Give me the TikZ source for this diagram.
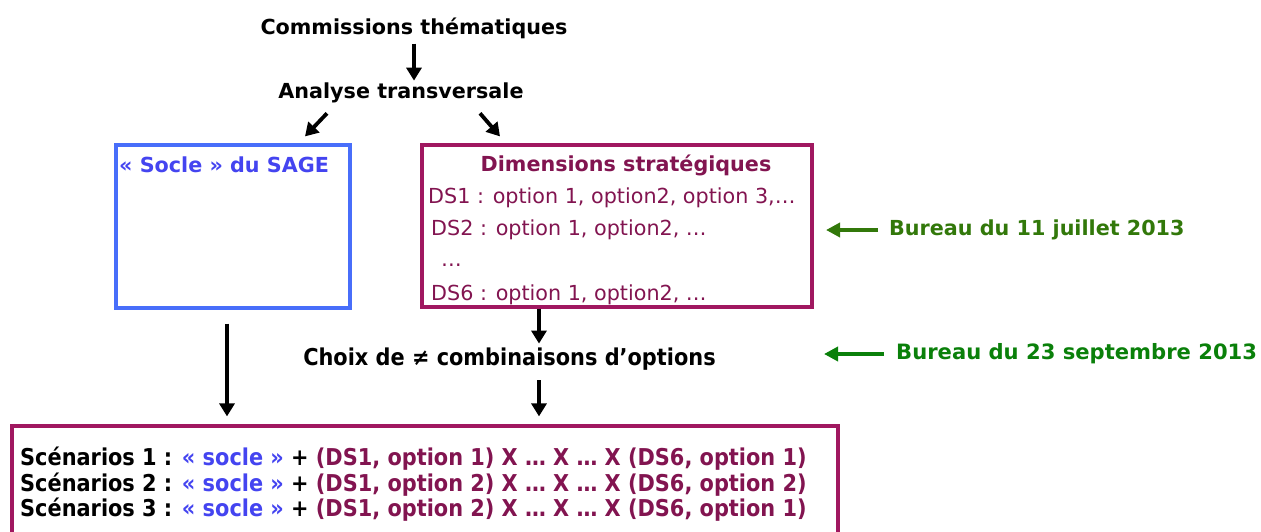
\documentclass[tikz,border=0pt]{standalone}
\usepackage{fontspec}
\setmainfont{DejaVu Sans}
\newfontfamily\condfont{DejaVu Sans Condensed}
\usetikzlibrary{arrows.meta,calc}
\definecolor{bluebox}{RGB}{72,110,250}
\definecolor{bluetxt}{RGB}{68,68,240}
\definecolor{purplebox}{RGB}{160,24,96}
\definecolor{purpletxt}{RGB}{130,20,80}
\definecolor{greenA}{RGB}{50,120,10}
\definecolor{greenB}{RGB}{10,128,10}
\tikzset{
  txt/.style={inner sep=0pt, font=\fontsize{20.7}{24}\selectfont},
  btxt/.style={txt, font=\fontsize{20.7}{24}\selectfont\bfseries},
  ctxt/.style={inner sep=0pt, font=\fontsize{23.2}{26}\selectfont\condfont\bfseries},
  frame/.style={draw, line width=3.2pt, inner sep=0pt},
  arr/.style={line width=3.8pt, -{Triangle[length=13pt,width=15pt]}},
  garr/.style={line width=4pt, -{Triangle[length=14pt,width=14pt]}},
}
\begin{document}
\begin{tikzpicture}[x=1pt,y=-1pt]
\useasboundingbox (0,0) rectangle (1261,532);
% texts
\node[btxt] (c) at (414,28) {Commissions thématiques};
\node[btxt] (a) at (401,93) {Analyse transversale};
% boxes
\node[frame, draw=bluebox, minimum width=234pt, minimum height=163pt] (s) at (233,226.5) {};
\node[btxt, text=bluetxt, anchor=west] (st) at (119,165) {« Socle » du SAGE};
\node[frame, draw=purplebox, minimum width=390pt, minimum height=162pt] (d) at (617,226) {};
\node[btxt, text=purpletxt] (dt) at (626,165) {Dimensions stratégiques};
\node[txt, text=purpletxt, anchor=west] (ds1) at (428,198) {DS1 : option 1, option2, option 3,…};
\node[txt, text=purpletxt, anchor=west] (ds2) at (431,230) {DS2 : option 1, option2, …};
\node[txt, text=purpletxt, anchor=west] (dsd) at (441,265) {…};
\node[txt, text=purpletxt, anchor=west] (ds6) at (431,295) {DS6 : option 1, option2, …};
% bureau labels
\node[btxt, text=greenA, anchor=west] (b1) at (889,230) {Bureau du 11 juillet 2013};
\node[btxt, text=greenB, anchor=west, font=\fontsize{21.1}{24}\selectfont\bfseries] (b2) at (896,354) {Bureau du 23 septembre 2013};
% choix
\node[ctxt] (ch) at (509.5,359) {Choix de ≠ combinaisons d’options};
% bottom box
\node[frame, draw=purplebox, minimum width=826pt, minimum height=120pt] (sc) at (425,486) {};
\node[ctxt, anchor=west] (sc1) at (20,459) {Scénarios 1 : \textcolor{bluetxt}{« socle »} + \textcolor{purpletxt}{(DS1, option 1) X … X … X (DS6, option 1)}};
\node[ctxt, anchor=west] (sc2) at (20,485) {Scénarios 2 : \textcolor{bluetxt}{« socle »} + \textcolor{purpletxt}{(DS1, option 2) X … X … X (DS6, option 2)}};
\node[ctxt, anchor=west] (sc3) at (20,510) {Scénarios 3 : \textcolor{bluetxt}{« socle »} + \textcolor{purpletxt}{(DS1, option 2) X … X … X (DS6, option 1)}};
% arrows
\draw[arr] ($(c.south)+(0,5)$) -- ($(c.south)+(0,42)$);
\draw[arr] ($(a.south)+(-74,10)$) -- ($(s.north)+(72,-7)$);
\draw[arr] ($(a.south)+(79,10)$) -- ($(d.north)+(-117,-7)$);
\draw[arr] ($(s.south)+(-6,14)$) -- ($(sc.north)+(-198,-8)$);
\draw[arr] (d.south -| 539,0) -- ($(ch.north)+(29.5,-4)$);
\draw[arr] ($(ch.south)+(29.5,10)$) -- ($(sc.north)+(114,-8)$);
\draw[garr, greenA] ($(b1.west)+(-11,0)$) -- ($(b1.west)+(-63,0)$);
\draw[garr, greenB] ($(b2.west)+(-12,0)$) -- ($(b2.west)+(-72,0)$);
\end{tikzpicture}
\end{document}
